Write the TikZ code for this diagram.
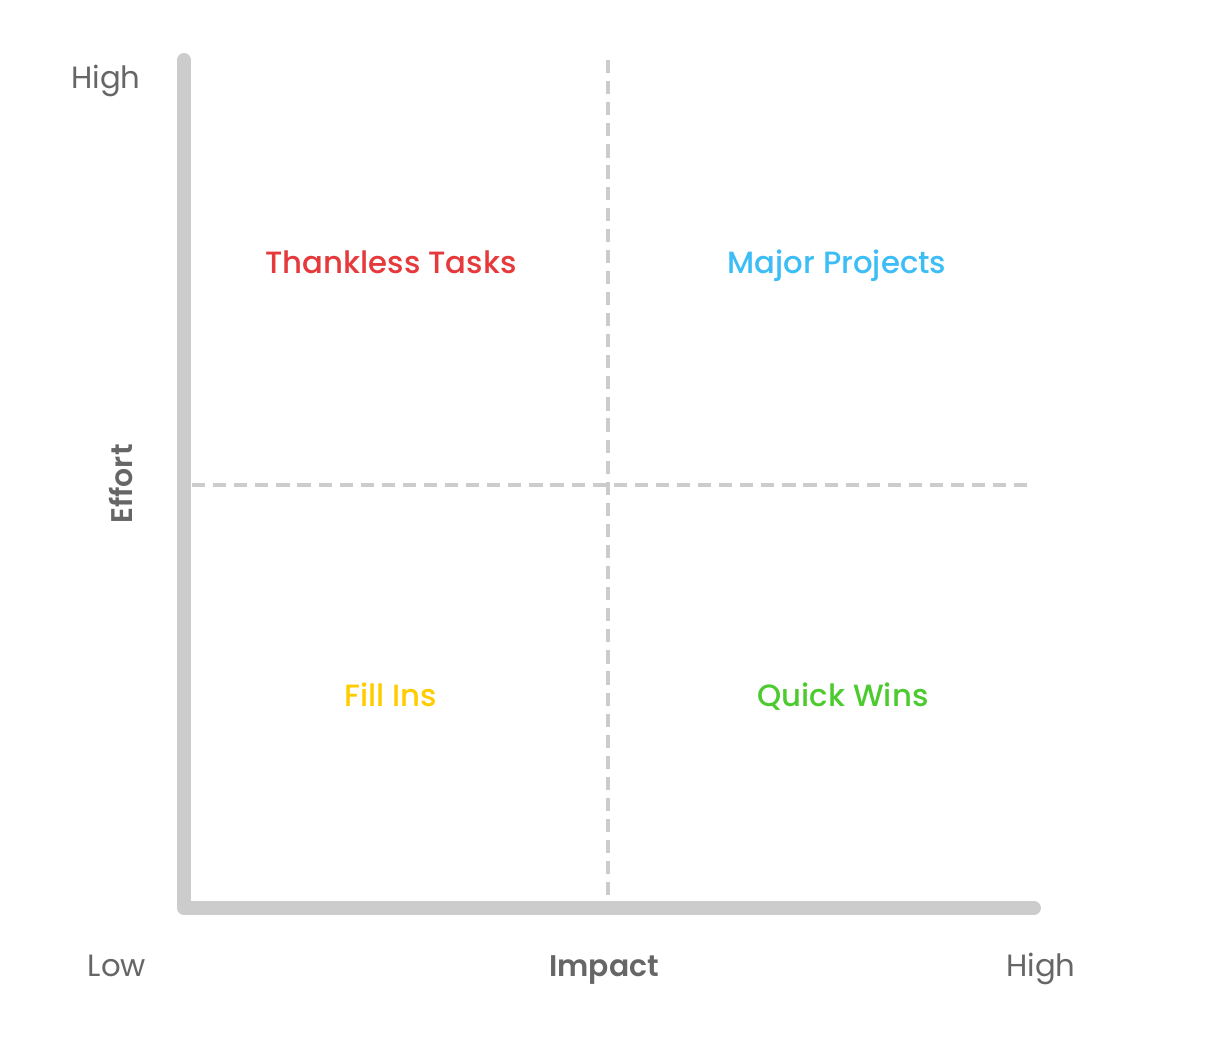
\documentclass[tikz,border=0pt]{standalone}
\usepackage{fontspec}
\setmainfont{Poppins}
\newfontfamily\medfont{Poppins Medium}
\newfontfamily\semifont{Poppins SemiBold}
\definecolor{axisgray}{HTML}{CCCCCC}
\definecolor{txtgray}{HTML}{666666}
\definecolor{qred}{HTML}{E5393B}
\definecolor{qblue}{HTML}{3DBDF5}
\definecolor{qyellow}{HTML}{FFCC00}
\definecolor{qgreen}{HTML}{4CCB2E}
\begin{document}
\begin{tikzpicture}[x=0.02cm,y=-0.02cm,
  axis/.style={line width=14*0.567pt,axisgray,line cap=round,line join=round},
  grid/.style={line width=3.5*0.567pt,axisgray,dash pattern=on 7.5pt off 4.5pt},
  lbl/.style={font=\fontsize{17.5}{19}\selectfont,text=txtgray,anchor=base},
  ttl/.style={font=\fontsize{17}{19}\selectfont\semifont,text=txtgray,anchor=base},
  quad/.style={font=\fontsize{17.5}{19}\selectfont\medfont,anchor=base}]
\useasboundingbox (0,0) rectangle (1208,1042);
\coordinate (top) at (184,60);
\coordinate (orig) at (184,908);
\coordinate (right) at (1034,908);
\coordinate (vt) at (608,60);
\coordinate (vb) at (608,900);
\coordinate (hl) at (192,485);
\coordinate (hr) at (1034,485);
\draw[grid] (vt) -- (vb);
\draw[grid] (hl) -- (hr);
\draw[axis] (top) -- (orig) -- (right);
\node[lbl] (yhigh) at (106,88) {High};
\node[ttl,rotate=90] (effort) at (132,484) {Effort};
\node[lbl] (xlow) at (117,976) {Low};
\node[ttl] (impact) at (604,976) {Impact};
\node[lbl] (xhigh) at (1041,976) {High};
\node[quad,text=qred] (tt) at (391,273) {Thankless Tasks};
\node[quad,text=qblue] (mp) at (837,273) {Major Projects};
\node[quad,text=qyellow] (fi) at (391,706) {Fill Ins};
\node[quad,text=qgreen] (qw) at (843,706) {Quick Wins};
\end{tikzpicture}
\end{document}
